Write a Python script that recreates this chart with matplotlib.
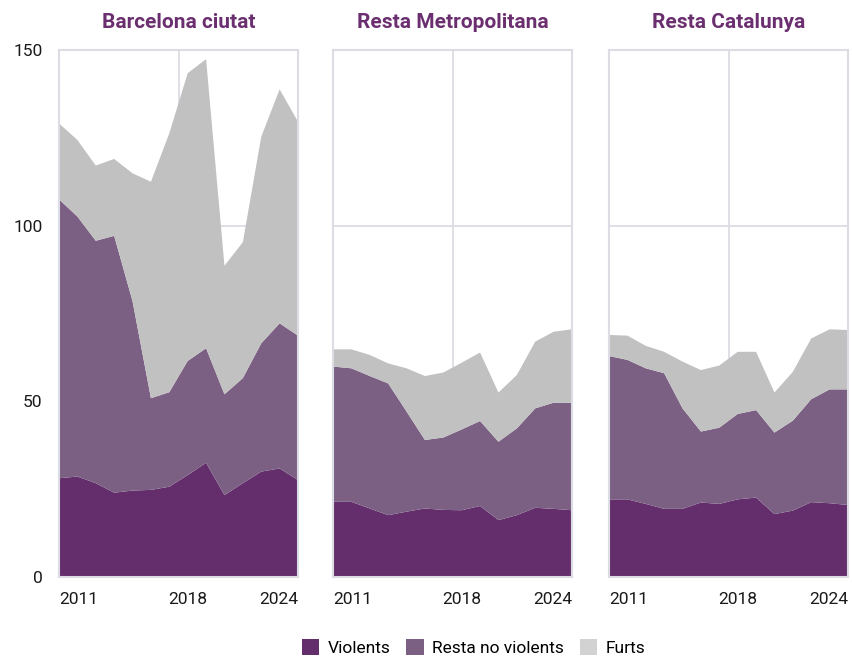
import numpy as np
import matplotlib
matplotlib.use("Agg")
import matplotlib.pyplot as plt
from matplotlib.patches import Patch

plt.rcParams['font.family'] = ['Roboto', 'DejaVu Sans']

years = list(range(2011, 2025))
regions = ['Barcelona ciutat', 'Resta Metropolitana', 'Resta Catalunya']

# cumulative levels: violents, +resta no violents, +furts
bcn_violents = [28.1, 28.6, 26.7, 24.0, 24.6, 24.8, 25.7, 29.0, 32.5, 23.3, 26.7, 30.0, 30.9, 27.6]
bcn_resta_cum = [107.5, 102.6, 95.7, 97.1, 78.5, 50.9, 52.6, 61.5, 65.1, 52.0, 56.6, 66.5, 72.2, 68.7]
bcn_total = [129.1, 124.4, 117.1, 119.0, 114.9, 112.5, 126.3, 143.4, 147.4, 88.6, 95.3, 125.3, 138.8, 129.6]

met_violents = [21.4, 21.4, 19.5, 17.6, 18.6, 19.5, 19.1, 19.0, 20.2, 16.2, 17.6, 19.7, 19.4, 19.0]
met_resta_cum = [59.9, 59.4, 57.2, 55.1, 47.1, 39.0, 39.7, 42.0, 44.4, 38.5, 42.3, 48.0, 49.6, 49.6]
met_total = [64.8, 64.8, 63.2, 60.8, 59.4, 57.2, 58.2, 61.0, 63.9, 52.5, 57.5, 67.0, 69.8, 70.5]

cat_violents = [22.1, 22.1, 20.8, 19.4, 19.4, 21.2, 20.8, 22.1, 22.6, 17.9, 18.9, 21.3, 21.0, 20.5]
cat_resta_cum = [62.9, 61.8, 59.4, 58.0, 48.0, 41.4, 42.5, 46.4, 47.5, 41.1, 44.5, 50.6, 53.4, 53.4]
cat_total = [68.9, 68.7, 65.8, 64.1, 61.3, 58.9, 60.2, 64.1, 64.1, 52.5, 58.4, 67.9, 70.5, 70.3]

series = ['Violents', 'Resta no violents', 'Furts']
colors = ['#632e6b', '#7b6083', '#c1c1c1']
legend_colors = ['#632e6b', '#7b6083', '#d2d2d2']
grid_color = '#dcdce4'
title_color = '#6b2f70'

data = [
    (bcn_violents, bcn_resta_cum, bcn_total),
    (met_violents, met_resta_cum, met_total),
    (cat_violents, cat_resta_cum, cat_total),
]

fig = plt.figure(figsize=(8.52, 6.57), dpi=100)
lefts = [59 / 852, 333 / 852, 609 / 852]
W = 239 / 852
B = 80 / 657
H = 527 / 657

for i, (name, (v, rc, t)) in enumerate(zip(regions, data)):
    ax = fig.add_axes([lefts[i], B, W, H])
    v = np.array(v)
    resta = np.array(rc) - v
    furts = np.array(t) - np.array(rc)
    ax.stackplot(years, v, resta, furts, colors=colors, linewidth=0, zorder=2)
    ax.set_xlim(years[0], years[-1])
    ax.set_ylim(0, 150)
    ax.set_yticks([0, 50, 100, 150])
    ax.grid(axis='y', color=grid_color, linewidth=1.3, zorder=0)
    ax.axvline((years[0] + years[-1]) / 2, color=grid_color, linewidth=1.3, zorder=0)
    ax.set_axisbelow(True)
    for s in ax.spines.values():
        s.set_color(grid_color)
        s.set_linewidth(1.5)
    ax.tick_params(length=0, labelsize=12.5, colors='#1a1a1a')
    ax.tick_params(axis='x', pad=11)
    ax.tick_params(axis='y', pad=12)
    if i > 0:
        ax.set_yticklabels([])
    ax.set_xticks([2011, 2018, 2024])
    labs = ax.set_xticklabels(['2011', '2018', '2024'])
    labs[0].set_ha('left')
    labs[-1].set_ha('right')
    ax.set_title(name, fontsize=15, fontweight='bold', color=title_color, pad=16)

handles = [Patch(facecolor=c, edgecolor='none') for c in legend_colors]
fig.legend(handles, series, loc='center', bbox_to_anchor=(0.556, 0.014), ncol=3,
           frameon=False, fontsize=12.5, handlelength=1.0, handleheight=1.0,
           handletextpad=0.5, columnspacing=0.9, borderpad=0, borderaxespad=0)

fig.savefig('out.png', dpi=100)
